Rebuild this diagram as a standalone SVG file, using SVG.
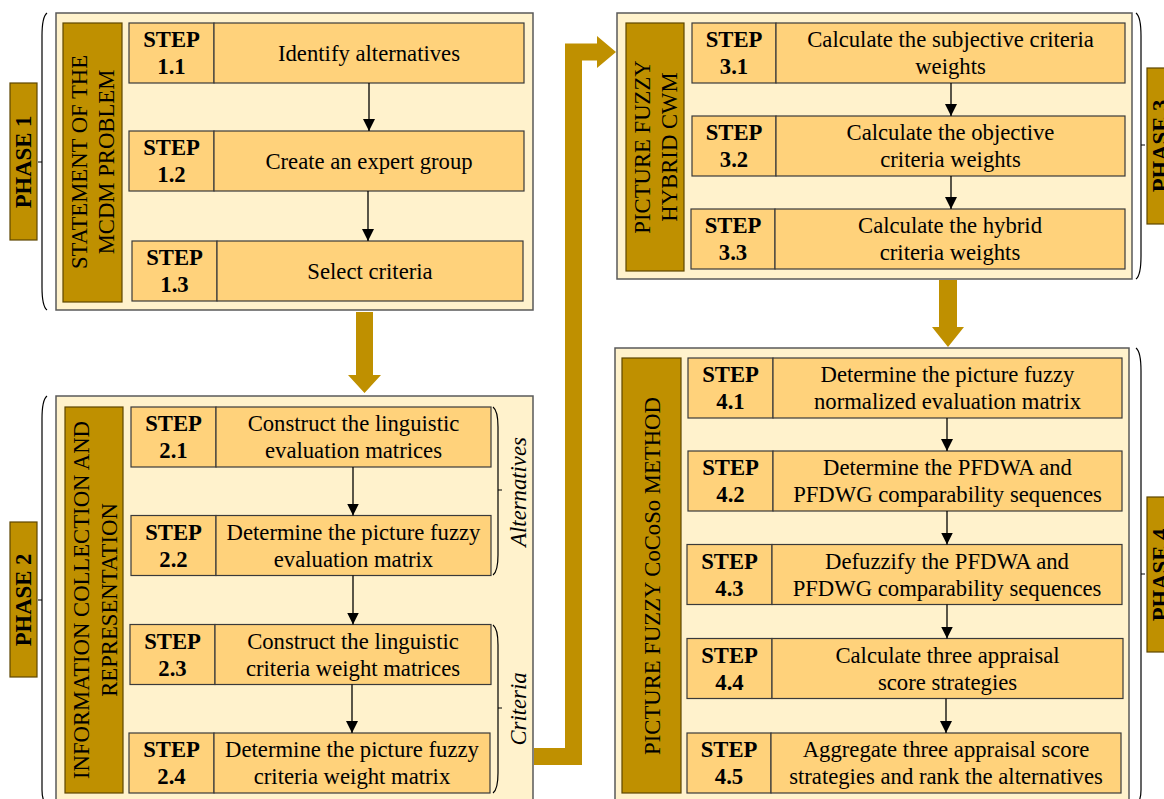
<svg xmlns="http://www.w3.org/2000/svg" width="1164" height="799" viewBox="0 0 1164 799">
<defs>
<style>
.cont{fill:#FFF2CC;stroke:#595959;stroke-width:1.5}
.side{fill:#BF9000;stroke:#5E4700;stroke-width:1.2}
.step{fill:#FFD27B;stroke:#3A3A3A;stroke-width:1.2}
.t{font-family:"Liberation Serif","Times New Roman",serif;font-size:22.7px;fill:#000;text-anchor:middle}
.b{font-weight:bold}
.i{font-style:italic}
.conn{stroke:#000;stroke-width:1.3;fill:none;marker-end:url(#ah)}
.brace{stroke:#000;stroke-width:1.2;fill:none}
.big{fill:#BF9000}
</style>
<marker id="ah" viewBox="0 0 12 12" refX="12" refY="6" markerWidth="12" markerHeight="12" markerUnits="userSpaceOnUse" orient="auto">
<path d="M0,0 L12,6 L0,12 Z" fill="#000"/>
</marker>
</defs>
<rect width="1164" height="799" fill="#fff"/>

<!-- containers -->
<g id="phase1">
<rect class="cont" x="56" y="13" width="477" height="297"/>
<rect class="side" x="63" y="23" width="59" height="279"/>
<text class="t" transform="translate(87,162) rotate(-90)">STATEMENT OF THE</text>
<text class="t" transform="translate(114,162) rotate(-90)">MCDM PROBLEM</text>
</g>
<g id="phase2">
<rect class="cont" x="56" y="396" width="477" height="410"/>
<rect class="side" x="65" y="407" width="58" height="386"/>
<text class="t" transform="translate(89,600) rotate(-90)">INFORMATION COLLECTION AND</text>
<text class="t" transform="translate(117,600) rotate(-90)">REPRESENTATION</text>
</g>
<g id="phase3">
<rect class="cont" x="617" y="13" width="515" height="266"/>
<rect class="side" x="626" y="23" width="58" height="248"/>
<text class="t" transform="translate(650,147) rotate(-90)">PICTURE FUZZY</text>
<text class="t" transform="translate(677,147) rotate(-90)">HYBRID CWM</text>
</g>
<g id="phase4">
<rect class="cont" x="615" y="348" width="514" height="460"/>
<rect class="side" x="622" y="358" width="59" height="435"/>
<text class="t" transform="translate(660,576) rotate(-90)">PICTURE FUZZY CoCoSo METHOD</text>
</g>

<!-- phase labels -->
<g id="label-phase1">
<rect class="side" x="10" y="83" width="27" height="157"/>
<text class="t b" transform="translate(31,162) rotate(-90)">PHASE 1</text>
</g>
<g id="label-phase2">
<rect class="side" x="10" y="522" width="27" height="155"/>
<text class="t b" transform="translate(31,600) rotate(-90)">PHASE 2</text>
</g>
<g id="label-phase3">
<rect class="side" x="1147" y="68" width="27" height="156"/>
<text class="t b" transform="translate(1168,146) rotate(-90)">PHASE 3</text>
</g>
<g id="label-phase4">
<rect class="side" x="1147" y="497" width="27" height="155"/>
<text class="t b" transform="translate(1168,575) rotate(-90)">PHASE 4</text>
</g>

<!-- braces -->
<g id="braces">
<path class="brace" d="M47,13 C43,16 42,24 42,36 L42,287 C42,299 43,307 47,310 M42,162 H38"/>
<path class="brace" d="M47,396 C43,399 42,407 42,419 L42,790 C42,796 43,799 44,801 M42,600 H38"/>
<path class="brace" d="M1136,13 C1140,16 1141,24 1141,36 L1141,256 C1141,268 1140,276 1136,279 M1141,145 H1145"/>
<path class="brace" d="M1136,348 C1140,351 1141,359 1141,371 L1141,790 C1141,796 1140,799 1139,801 M1141,574 H1145"/>
<path class="brace" d="M493,407 C497,410 498,417 498,427 L498,555 C498,565 497,572 493,575 M498,490 H502"/>
<path class="brace" d="M493,625 C497,628 498,635 498,645 L498,773 C498,783 497,790 493,793 M498,708 H502"/>
<text class="t i" transform="translate(526,492) rotate(-90)">Alternatives</text>
<text class="t i" transform="translate(526,709) rotate(-90)">Criteria</text>
</g>

<!-- steps phase 1 -->
<g id="step11"><rect class="step" x="129" y="23" width="85" height="60"/><rect class="step" x="214" y="23" width="310" height="60"/>
<text class="t b" x="171.5" y="47">STEP</text><text class="t b" x="171.5" y="74">1.1</text>
<text class="t" x="369" y="61">Identify alternatives</text></g>
<g id="step12"><rect class="step" x="129" y="131" width="85" height="60"/><rect class="step" x="214" y="131" width="310" height="60"/>
<text class="t b" x="171.5" y="155">STEP</text><text class="t b" x="171.5" y="182">1.2</text>
<text class="t" x="369" y="169">Create an expert group</text></g>
<g id="step13"><rect class="step" x="132" y="241" width="85" height="60"/><rect class="step" x="217" y="241" width="306" height="60"/>
<text class="t b" x="174.5" y="265">STEP</text><text class="t b" x="174.5" y="292">1.3</text>
<text class="t" x="370" y="279">Select criteria</text></g>

<!-- steps phase 2 -->
<g id="step21"><rect class="step" x="131" y="407" width="85" height="60"/><rect class="step" x="216" y="407" width="275" height="60"/>
<text class="t b" x="173.5" y="431">STEP</text><text class="t b" x="173.5" y="458">2.1</text>
<text class="t" x="353.5" y="431">Construct the linguistic</text><text class="t" x="353.5" y="458">evaluation matrices</text></g>
<g id="step22"><rect class="step" x="131" y="515.5" width="85" height="60"/><rect class="step" x="216" y="515.5" width="275" height="60"/>
<text class="t b" x="173.5" y="539.5">STEP</text><text class="t b" x="173.5" y="566.5">2.2</text>
<text class="t" x="353.5" y="539.5">Determine the picture fuzzy</text><text class="t" x="353.5" y="566.5">evaluation matrix</text></g>
<g id="step23"><rect class="step" x="130" y="624.5" width="85" height="60"/><rect class="step" x="215" y="624.5" width="276" height="60"/>
<text class="t b" x="172.5" y="648.5">STEP</text><text class="t b" x="172.5" y="675.5">2.3</text>
<text class="t" x="353" y="648.5">Construct the linguistic</text><text class="t" x="353" y="675.5">criteria weight matrices</text></g>
<g id="step24"><rect class="step" x="129" y="733" width="85" height="60"/><rect class="step" x="214" y="733" width="276" height="60"/>
<text class="t b" x="171.5" y="757">STEP</text><text class="t b" x="171.5" y="784">2.4</text>
<text class="t" x="352" y="757">Determine the picture fuzzy</text><text class="t" x="352" y="784">criteria weight matrix</text></g>

<!-- steps phase 3 -->
<g id="step31"><rect class="step" x="692" y="23" width="84" height="60"/><rect class="step" x="776" y="23" width="349" height="60"/>
<text class="t b" x="734" y="47">STEP</text><text class="t b" x="734" y="74">3.1</text>
<text class="t" x="950.5" y="47">Calculate the subjective criteria</text><text class="t" x="950.5" y="74">weights</text></g>
<g id="step32"><rect class="step" x="692" y="116" width="84" height="60"/><rect class="step" x="776" y="116" width="349" height="60"/>
<text class="t b" x="734" y="140">STEP</text><text class="t b" x="734" y="167">3.2</text>
<text class="t" x="950.5" y="140">Calculate the objective</text><text class="t" x="950.5" y="167">criteria weights</text></g>
<g id="step33"><rect class="step" x="691" y="209" width="84" height="60"/><rect class="step" x="775" y="209" width="350" height="60"/>
<text class="t b" x="733" y="233">STEP</text><text class="t b" x="733" y="260">3.3</text>
<text class="t" x="950" y="233">Calculate the hybrid</text><text class="t" x="950" y="260">criteria weights</text></g>

<!-- steps phase 4 -->
<g id="step41"><rect class="step" x="688" y="358" width="85" height="60"/><rect class="step" x="773" y="358" width="349" height="60"/>
<text class="t b" x="730.5" y="382">STEP</text><text class="t b" x="730.5" y="409">4.1</text>
<text class="t" x="947.5" y="382">Determine the picture fuzzy</text><text class="t" x="947.5" y="409">normalized evaluation matrix</text></g>
<g id="step42"><rect class="step" x="688" y="451" width="85" height="60"/><rect class="step" x="773" y="451" width="349" height="60"/>
<text class="t b" x="730.5" y="475">STEP</text><text class="t b" x="730.5" y="502">4.2</text>
<text class="t" x="947.5" y="475">Determine the PFDWA and</text><text class="t" x="947.5" y="502">PFDWG comparability sequences</text></g>
<g id="step43"><rect class="step" x="687" y="544.5" width="85" height="60"/><rect class="step" x="772" y="544.5" width="350" height="60"/>
<text class="t b" x="729.5" y="568.5">STEP</text><text class="t b" x="729.5" y="595.5">4.3</text>
<text class="t" x="947" y="568.5">Defuzzify the PFDWA and</text><text class="t" x="947" y="595.5">PFDWG comparability sequences</text></g>
<g id="step44"><rect class="step" x="687" y="638.5" width="85" height="60"/><rect class="step" x="772" y="638.5" width="351" height="60"/>
<text class="t b" x="729.5" y="662.5">STEP</text><text class="t b" x="729.5" y="689.5">4.4</text>
<text class="t" x="947.5" y="662.5">Calculate three appraisal</text><text class="t" x="947.5" y="689.5">score strategies</text></g>
<g id="step45"><rect class="step" x="687" y="733" width="84" height="60"/><rect class="step" x="771" y="733" width="350" height="60"/>
<text class="t b" x="729" y="757">STEP</text><text class="t b" x="729" y="784">4.5</text>
<text class="t" x="946" y="757">Aggregate three appraisal score</text><text class="t" x="946" y="784">strategies and rank the alternatives</text></g>

<!-- connectors -->
<g id="connectors">
<path class="conn" d="M369,83 V131"/>
<path class="conn" d="M368,191 V241"/>
<path class="conn" d="M353,467 V515.5"/>
<path class="conn" d="M353,575.5 V624.5"/>
<path class="conn" d="M352,684.5 V733"/>
<path class="conn" d="M951,83 V116"/>
<path class="conn" d="M951,176 V209"/>
<path class="conn" d="M947,418 V451"/>
<path class="conn" d="M947,511 V544.5"/>
<path class="conn" d="M947,604.5 V638.5"/>
<path class="conn" d="M946,698.5 V733"/>
<polygon class="big" points="356,312 373,312 373,375 381,375 364.5,393 348,375 356,375"/>
<polygon class="big" points="939,280 957,280 957,327 964,327 948,347 932,327 939,327"/>
<polygon class="big" points="534,748 565,748 565,43.5 597,43.5 597,36 616,52 597,68 597,60.5 582,60.5 582,765 534,765"/>
</g>
</svg>
